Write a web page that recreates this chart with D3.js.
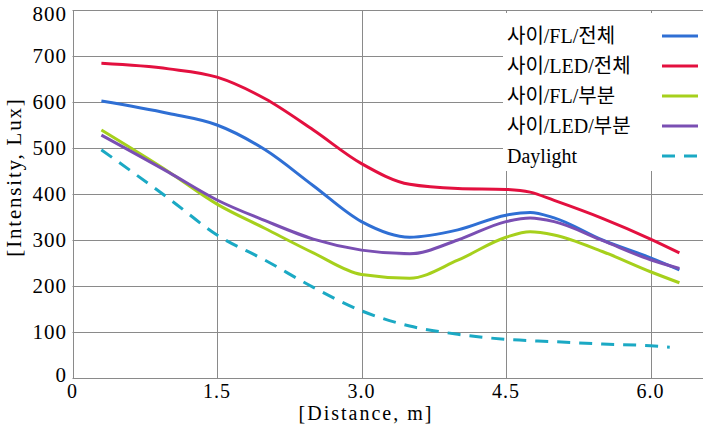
<!DOCTYPE html>
<html>
<head>
<meta charset="utf-8">
<script src="https://cdn.jsdelivr.net/npm/d3@7"></script>
<style>
  html, body { margin: 0; padding: 0; background: #fff; }
  svg { display: block; }
  text { font-family: "Liberation Serif", "Noto Sans CJK KR", serif; fill: #000; }
</style>
</head>
<body>
<svg id="chart" width="703" height="428"></svg>
<script>
// ---- data ----
const distance   = [0.3, 1.0, 1.5, 2.0, 2.5, 3.0, 3.5, 4.0, 4.5, 4.75, 5.0, 5.5, 6.0, 6.3];
const flTotal    = [602, 575, 550, 496, 418, 340, 306, 322, 354, 360, 348, 300, 261, 235];
const ledTotal   = [684, 672, 654, 607, 539, 466, 421, 412, 410, 404, 386, 347, 302, 272];
const flPart     = [539, 448, 378, 325, 272, 225, 217, 256, 306, 318, 311, 275, 231, 207];
const ledPart    = [528, 447, 387, 342, 302, 278, 270, 300, 340, 348, 340, 299, 257, 238];
const dayDistance = [0.3, 1.0, 1.5, 2.0, 2.5, 3.0, 3.5, 4.0, 4.5, 5.0, 5.5, 6.0, 6.2];
const daylight    = [496, 390, 311, 256, 197, 146, 113, 95, 84, 79, 74, 70, 67];

const seriesNames  = ["사이/FL/전체", "사이/LED/전체", "사이/FL/부분", "사이/LED/부분", "Daylight"];
const seriesColors = ["#2f6fd4", "#e3103f", "#a6d01c", "#7a4fb3", "#1ba9c4"];
const xTicks = [0, 1.5, 3.0, 4.5, 6.0];
const xTickLabels = ["0", "1.5", "3.0", "4.5", "6.0"];
const yTicks = [0, 100, 200, 300, 400, 500, 600, 700, 800];

const series = [
  { name: seriesNames[0], xs: distance, ys: flTotal, color: seriesColors[0], dash: null },
  { name: seriesNames[1], xs: distance, ys: ledTotal, color: seriesColors[1], dash: null },
  { name: seriesNames[2], xs: distance, ys: flPart, color: seriesColors[2], dash: null },
  { name: seriesNames[3], xs: distance, ys: ledPart, color: seriesColors[3], dash: null },
  { name: seriesNames[4], xs: dayDistance, ys: daylight, color: seriesColors[4], dash: "13,9" }
];

// ---- layout ----
const svg = d3.select("#chart");
const x = d3.scaleLinear().domain([0, 6.6]).range([72.5, 708.3]);
const y = d3.scaleLinear().domain([0, 800]).range([378, 10]);
const gridColor = "#8a8a8a";

// horizontal gridlines
svg.append("g").selectAll("line").data(yTicks).join("line")
  .attr("x1", x(0)).attr("x2", 703)
  .attr("y1", d => Math.round(y(d)) + 0.5).attr("y2", d => Math.round(y(d)) + 0.5)
  .attr("stroke", gridColor).attr("stroke-width", 1);

// vertical gridlines
svg.append("g").selectAll("line").data(xTicks).join("line")
  .attr("x1", d => Math.round(x(d)) + 0.5).attr("x2", d => Math.round(x(d)) + 0.5)
  .attr("y1", y(800)).attr("y2", y(0))
  .attr("stroke", gridColor).attr("stroke-width", 1);

// y tick labels
svg.append("g").selectAll("text").data(yTicks).join("text")
  .attr("x", 67)
  .attr("y", d => Math.min(Math.max(y(d), 14), 375))
  .attr("text-anchor", "end")
  .attr("dominant-baseline", "central")
  .attr("font-size", 21)
  .attr("letter-spacing", 1)
  .text(d => d);

// x tick labels
svg.append("g").selectAll("text").data(xTicks).join("text")
  .attr("x", d => x(d))
  .attr("y", 391)
  .attr("text-anchor", "middle")
  .attr("dominant-baseline", "central")
  .attr("font-size", 20)
  .attr("letter-spacing", 1)
  .text((d, i) => xTickLabels[i]);

// axis titles
svg.append("text")
  .attr("transform", "translate(14,177) rotate(-90)")
  .attr("text-anchor", "middle")
  .attr("dominant-baseline", "central")
  .attr("font-size", 21)
  .attr("letter-spacing", 1.8)
  .text("[Intensity, Lux]");

svg.append("text")
  .attr("x", 366).attr("y", 413)
  .attr("text-anchor", "middle")
  .attr("dominant-baseline", "central")
  .attr("font-size", 20)
  .attr("letter-spacing", 2)
  .text("[Distance, m]");

// lines
const line = d3.line().curve(d3.curveMonotoneX);
svg.append("g").selectAll("path").data(series).join("path")
  .attr("d", s => line(s.xs.map((v, i) => [x(v), y(s.ys[i])])))
  .attr("fill", "none")
  .attr("stroke", s => s.color)
  .attr("stroke-width", 3)
  .attr("stroke-dasharray", s => s.dash);

// legend
const lg = svg.append("g");
lg.append("rect").attr("x", 503).attr("y", 13).attr("width", 200).attr("height", 158).attr("fill", "#fff");
const rows = lg.selectAll("g").data(series).join("g")
  .attr("transform", (s, i) => `translate(0,${36 + i * 30})`);
rows.append("text")
  .attr("x", 507).attr("y", 0)
  .attr("dominant-baseline", "central")
  .attr("font-size", 20)
  .text(s => s.name);
rows.append("line")
  .attr("x1", 662).attr("x2", 698).attr("y1", 0).attr("y2", 0)
  .attr("stroke", s => s.color).attr("stroke-width", 3)
  .attr("stroke-dasharray", s => s.dash);
</script>
</body>
</html>
